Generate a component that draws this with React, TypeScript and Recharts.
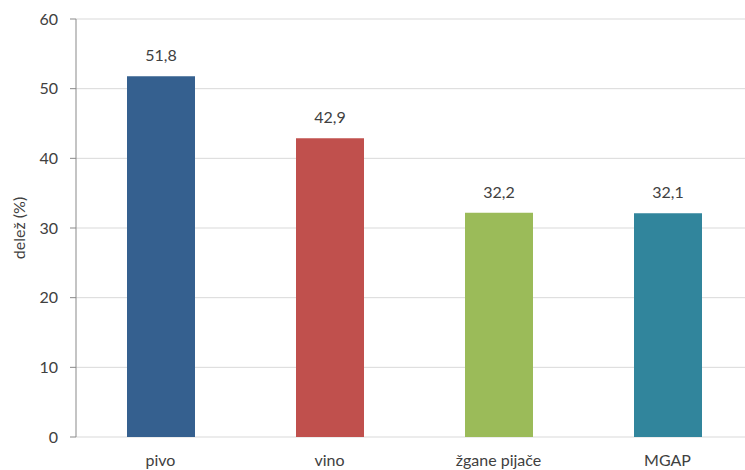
import React from 'react';
import { BarChart, Bar, XAxis, YAxis, CartesianGrid, LabelList, Cell } from 'recharts';

const categories = ['pivo', 'vino', 'žgane pijače', 'MGAP'];
const values = [51.8, 42.9, 32.2, 32.1];
const colors = ['#35608f', '#c0504d', '#9bbb59', '#31859c'];
const yTicks = [0, 10, 20, 30, 40, 50, 60];
const boundaryTicks = [0, 1, 2, 3, 4];

const data = categories.map((name, i) => ({ name, value: values[i], idx: i }));

const FONT = 'Lato, "Open Sans", sans-serif';
const TXT = '#404040';
const FS = 16;

export default function App() {
  return (
    <div style={{ position: 'absolute', left: 0, top: 0, width: 745, height: 470, overflow: 'hidden', background: '#fff' }}>
      <BarChart
        width={760}
        height={470}
        data={data}
        margin={{ top: 19, right: 8, bottom: 0, left: 0 }}
        style={{ fontFamily: FONT }}
      >
        <CartesianGrid vertical={false} stroke="#d9d9d9" />
        <XAxis
          xAxisId="num"
          type="number"
          dataKey="idx"
          domain={[0, 4]}
          allowDataOverflow
          ticks={boundaryTicks}
          tickFormatter={() => ''}
          height={0}
          stroke="#898989"
          tickSize={6}
        />
        <XAxis
          xAxisId="cat"
          dataKey="name"
          axisLine={false}
          tickLine={false}
          height={33}
          tick={{ fill: TXT, fontSize: FS, fontFamily: FONT }}
          tickMargin={12}
        />
        <YAxis
          domain={[0, 60]}
          ticks={yTicks}
          width={76}
          stroke="#898989"
          tickSize={6}
          tickMargin={12}
          tick={{ fill: TXT, fontSize: FS, fontFamily: FONT }}
          label={{ value: 'delež (%)', angle: -90, position: 'insideLeft', offset: 19, fill: TXT, fontSize: FS, fontFamily: FONT, style: { textAnchor: 'middle' } }}
        />
        <Bar dataKey="value" xAxisId="cat" barSize={68} isAnimationActive={false}>
          {data.map((d, i) => (
            <Cell key={d.name} fill={colors[i]} />
          ))}
          <LabelList
            dataKey="value"
            position="top"
            offset={15}
            formatter={(v: any) => String(v).replace('.', ',')}
            style={{ fill: TXT, fontSize: FS, fontFamily: FONT }}
          />
        </Bar>
      </BarChart>
    </div>
  );
}
